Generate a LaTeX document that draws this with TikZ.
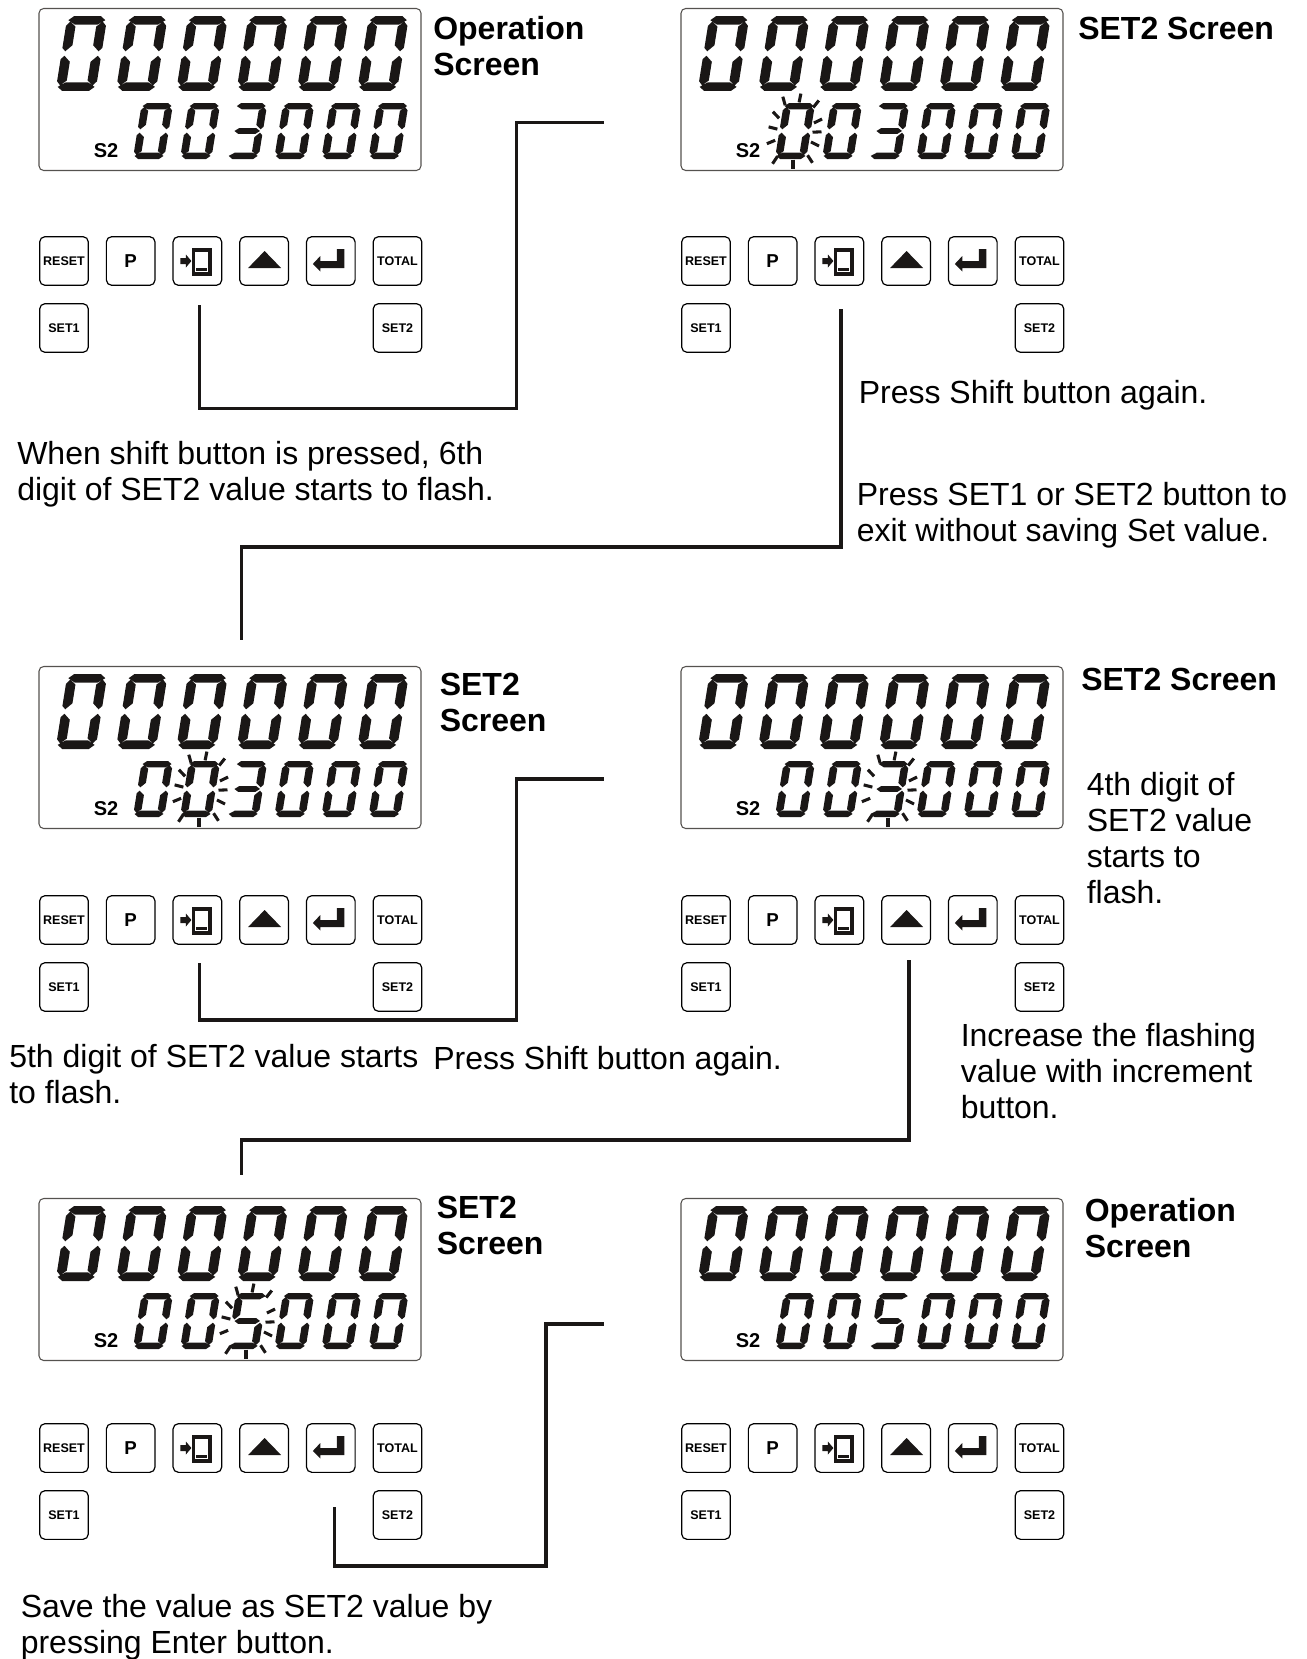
\documentclass[tikz,border=0pt]{standalone}
\usepackage{fontspec}
\setmainfont{Liberation Sans}
\usetikzlibrary{calc}
\definecolor{ink}{HTML}{1A1716}
\definecolor{edge}{HTML}{55524F}

\def\sega{(.14,2)--(.86,2)--(1,1.89)--(.8,1.77)--(.2,1.77)--(0,1.89)--cycle}
\def\segd{(.14,0)--(.86,0)--(1,.11)--(.8,.23)--(.2,.23)--(0,.11)--cycle}
\def\segg{(.2,1.1)--(.8,1.1)--(.94,1)--(.8,.9)--(.2,.9)--(.06,1)--cycle}
\def\segf{(-.04,1.74)--(.06,1.85)--(.22,1.72)--(.22,1.22)--(.05,1.06)--(-.04,1.15)--cycle}
\def\segb{(1.04,1.74)--(.94,1.85)--(.78,1.72)--(.78,1.22)--(.95,1.06)--(1.04,1.15)--cycle}
\def\sege{(-.04,.26)--(.06,.15)--(.22,.28)--(.22,.78)--(.05,.94)--(-.04,.85)--cycle}
\def\segc{(1.04,.26)--(.94,.15)--(.78,.28)--(.78,.78)--(.95,.94)--(1.04,.85)--cycle}
\expandafter\def\csname digit0\endcsname{\sega \segb \segc \segd \sege \segf}
\expandafter\def\csname digit3\endcsname{\sega \segb \segg \segc \segd}
\expandafter\def\csname digit5\endcsname{\sega \segf \segg \segc \segd}

\newcommand{\lcdrow}[5]{%
  \foreach \d [count=\i from 0] in {#5} {
    \expandafter\let\expandafter\thisdigit\csname digit\d\endcsname
    \begin{scope}[shift={(#2+#4*\i,#3)},#1]
      \fill[ink] \thisdigit;
    \end{scope}
  }}

\newcommand{\flash}[2]{%
  \foreach \dx/\dy in {7/-35,-9/-32,23/-29,-17/-18,25/-12,-20/-5,24/-1,-22/9,22/11,-18/27,0/31,17/26} {
    \pgfmathsetmacro{\rr}{4.5/veclen(\dx,\dy)}
    \draw[ink,line width=2.3pt] (#1+\dx-\rr*\dx,#2+\dy-\rr*\dy)--(#1+\dx+\rr*\dx,#2+\dy+\rr*\dy);
  }}

\newcommand{\panel}[5]{%
  \node[lcdbox] (#1lcd) at (#2+230,#3+89.5) {};
  \lcdrow{bigdigit}{#2+57}{#3+91}{60.3}{0,0,0,0,0,0}
  \lcdrow{smalldigit}{#2+134}{#3+159}{47.1}{#5}
  \node[font=\bfseries\fontsize{15}{15}\selectfont,inner sep=0] (#1s2) at (#2+106,#3+151) {S2};
  \node[btn] (#1reset) at (#2+64,#4+261) {RESET};
  \node[btn,font=\bfseries\fontsize{14}{14}\selectfont] (#1p) at (#2+130.7,#4+261) {P};
  \node[btn] (#1shift) at (#2+197.4,#4+261) {};
  \node[btn] (#1up) at (#2+264.1,#4+261) {};
  \node[btn] (#1enter) at (#2+330.8,#4+261) {};
  \node[btn] (#1total) at (#2+397.5,#4+261) {TOTAL};
  \node[btn] (#1setone) at (#2+64,#4+328) {SET1};
  \node[btn] (#1settwo) at (#2+397.5,#4+328) {SET2};
  \pic at (#1shift) {shifticon};
  \pic at (#1up) {upicon};
  \pic at (#1enter) {entericon};}

\tikzset{
  bigdigit/.style={x={(27.75pt,0pt)},y={(4.5pt,28.1pt)}},
  smalldigit/.style={x={(21.75pt,0pt)},y={(3.4pt,21pt)}},
  lcdbox/.style={draw=edge,line width=.8pt,rounded corners=3.5pt,minimum width=286.5pt,
    minimum height=121.5pt,inner sep=0},
  btn/.style={draw=black,line width=.9pt,rounded corners=4pt,minimum size=36.5pt,inner sep=0,
    font=\bfseries\fontsize{9.4}{10}\selectfont},
  txt/.style={anchor=north west,inner sep=0,align=left,font=\fontsize{24}{27}\selectfont},
  head/.style={anchor=north west,inner sep=0,align=left,font=\bfseries\fontsize{24}{27}\selectfont},
  link/.style={ink,line width=2.4pt,miter limit=10},
  shifticon/.pic={
    \draw[ink,line width=2.8pt] (-3.9,-11) rectangle (12.5,13);
    \fill[ink] (-1.3,6.5) rectangle (9.3,9.5);
    \fill[ink] (-17,-3)--(-11.5,-3)--(-11.5,-6.5)--(-6,0)--(-11.5,6.5)--(-11.5,3)--(-17,3)--cycle;
  },
  upicon/.pic={\fill[ink] (-16,7)--(17,7)--(.5,-10)--cycle;},
  entericon/.pic={
    \fill[ink] (-18,3)--(-10.5,-5)--(-10.5,0)--(6,0)--(6,-12)--(13.5,-12)--(13.5,7)--(-10.5,7)--(-10.5,10.5)--cycle;
  }
}

\begin{document}
\begin{tikzpicture}[x=.75pt,y=-.75pt]
\useasboundingbox (0,0) rectangle (1306,1659);
\panel{opa}{0}{0}{0}{0,0,3,0,0,0}
\panel{seta}{642}{0}{0}{0,0,3,0,0,0}
\flash{793}{133}
\panel{setb}{0}{658}{659}{0,0,3,0,0,0}
\flash{199}{791}
\panel{setc}{642}{658}{659}{0,0,3,0,0,0}
\flash{888}{791}
\panel{setd}{0}{1190}{1187}{0,0,5,0,0,0}
\flash{246}{1323}
\panel{opb}{642}{1190}{1187}{0,0,5,0,0,0}
\node[head] (titlea) at (433,16.5) {Operation\\Screen};
\node[head] (titleb) at (1078,16.5) {SET2 Screen};
\node[head] (titlec) at (439.5,672.5) {SET2\\Screen};
\node[head] (titled) at (1081,667.5) {SET2 Screen};
\node[head] (titlee) at (436.5,1195.5) {SET2\\Screen};
\node[head] (titlef) at (1084.5,1198.5) {Operation\\Screen};
\node[txt] (noteshift) at (17,441) {When shift button is pressed, 6th\\digit of SET2 value starts to flash.};
\node[txt] (noteagain) at (858.5,380) {Press Shift button again.};
\node[txt] (noteexit) at (856.5,482) {Press SET1 or SET2 button to\\exit without saving Set value.};
\node[txt] (notefourth) at (1086.5,772) {4th digit of\\SET2 value\\starts to\\flash.};
\node[txt] (notefifth) at (9,1044) {5th digit of SET2 value starts\\to flash.};
\node[txt] (noteshifttwo) at (433,1046) {Press Shift button again.};
\node[txt] (noteinc) at (960.5,1023) {Increase the flashing\\value with increment\\button.};
\node[txt] (notesave) at (20.5,1594.5) {Save the value as SET2 value by\\pressing Enter button.};
\coordinate (linkaa) at (199.5,305);
\coordinate (linkab) at (604,122.8);
\coordinate (linkba) at (841,309);
\coordinate (linkbb) at (241.5,640);
\coordinate (linkca) at (199.5,963);
\coordinate (linkcb) at (604,779);
\coordinate (linkda) at (909,960);
\coordinate (linkdb) at (241.5,1175);
\coordinate (linkea) at (334.5,1507);
\coordinate (linkeb) at (604,1324);
\draw[link] (linkaa)|-(516.5,408.5)|-(linkab);
\draw[link] (linkba)|-(241.5,547)--(linkbb);
\draw[link] (linkca)|-(516.5,1020)|-(linkcb);
\draw[link] (linkda)|-(241.5,1140)--(linkdb);
\draw[link] (linkea)|-(546,1566)|-(linkeb);
\end{tikzpicture}
\end{document}
